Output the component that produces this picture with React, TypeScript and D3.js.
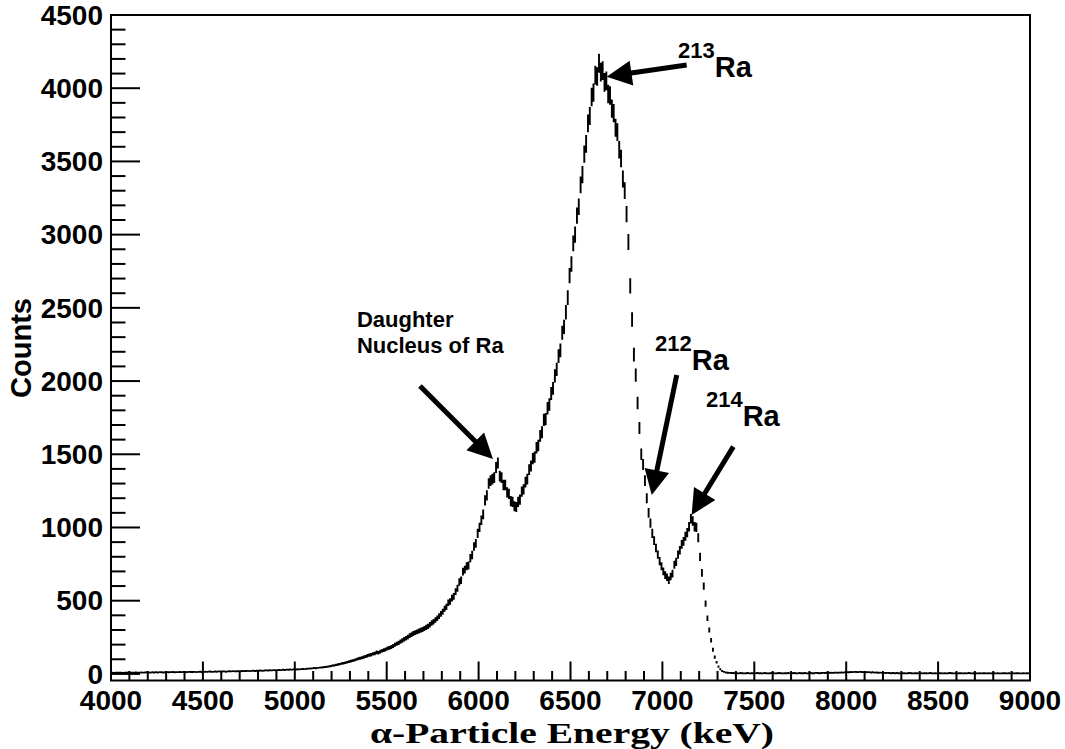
import React from 'react';
import * as d3 from 'd3';

// Alpha spectrum: counts per 10 keV bin, starting at 4000 keV.
const energyStart = 4000;
const binWidth = 10;
const counts = [
  8, 7, 9, 8, 8, 9, 7, 8, 9, 10, 8, 9, 9, 10, 8, 9, 10, 9, 10, 11,
  10, 9, 11, 10, 11, 10, 12, 11, 10, 11, 12, 11, 12, 13, 11, 12, 12, 13, 12, 13,
  13, 12, 14, 13, 13, 14, 12, 14, 15, 13, 14, 15, 14, 16, 15, 14, 16, 15, 17, 16,
  16, 17, 15, 17, 18, 17, 19, 17, 18, 19, 18, 20, 19, 20, 21, 19, 21, 22, 20, 22,
  22, 23, 21, 23, 24, 23, 25, 24, 26, 25, 26, 27, 26, 28, 27, 29, 28, 30, 29, 31,
  30, 32, 31, 33, 34, 33, 35, 36, 37, 38, 40, 39, 41, 43, 44, 46, 47, 49, 51, 53,
  57, 59, 62, 64, 67, 71, 73, 76, 80, 84, 87, 90, 94, 99, 103, 107, 110, 115, 119, 124,
  128, 131, 137, 140, 147, 145, 152, 158, 163, 168, 174, 178, 184, 190, 199, 206, 212, 220, 228, 236,
  243, 251, 262, 268, 276, 282, 287, 293, 298, 303, 310, 318, 325, 336, 348, 356, 368, 380, 395, 410,
  425, 445, 458, 486, 494, 518, 530, 562, 585, 628, 640, 698, 712, 735, 740, 790, 812, 870, 892, 960,
  1000, 1050, 1090, 1185, 1220, 1300, 1320, 1330, 1340, 1410, 1440, 1350, 1340, 1290, 1290, 1240, 1230, 1180, 1175, 1145,
  1140, 1175, 1190, 1245, 1260, 1310, 1330, 1395, 1420, 1470, 1480, 1545, 1560, 1625, 1650, 1735, 1740, 1815, 1840, 1915,
  1950, 2035, 2080, 2170, 2210, 2330, 2370, 2470, 2570, 2720, 2800, 2940, 3000, 3130, 3190, 3340, 3410, 3550, 3620, 3760,
  3810, 3940, 3970, 4090, 4080, 4170, 4110, 4120, 4040, 4050, 3960, 3950, 3860, 3830, 3730, 3700, 3580, 3520, 3380, 3300,
  3140, 2950, 2650, 2420, 2180, 2040, 1850, 1680, 1500, 1430, 1320, 1200, 1100, 1030, 960, 910, 860, 815, 770, 735,
  700, 675, 660, 640, 665, 685, 745, 765, 815, 845, 885, 905, 940, 965, 1005, 1060, 1045, 1005, 1000, 930,
  800, 690, 600, 480, 380, 300, 230, 165, 115, 80, 50, 32, 20, 14, 10, 8, 7, 6, 6, 5,
  5, 4, 6, 5, 4, 5, 6, 4, 5, 5, 4, 6, 5, 5, 4, 6, 5, 4, 5, 6,
  5, 4, 5, 6, 5, 4, 5, 5, 6, 4, 5, 6, 5, 4, 6, 5, 5, 6, 4, 5,
  6, 5, 5, 7, 6, 5, 6, 7, 6, 8, 7, 8, 7, 8, 9, 8, 9, 10, 9, 11,
  12, 11, 13, 12, 14, 13, 12, 14, 13, 12, 13, 11, 12, 10, 11, 9, 10, 8, 9, 7,
  7, 6, 7, 6, 5, 6, 5, 6, 5, 4, 5, 5, 4, 5, 6, 5, 4, 5, 5, 4,
  5, 4, 5, 5, 4, 6, 5, 4, 5, 4, 5, 5, 4, 5, 4, 5, 6, 5, 4, 5,
  4, 5, 5, 4, 5, 4, 6, 5, 4, 5, 5, 4, 5, 4, 5, 5, 4, 5, 4, 5,
  5, 4, 5, 4, 4, 5, 5, 4, 5, 4, 5, 4, 5, 5, 4, 4, 5, 4, 5, 4,
];

const xDomain = [4000, 9000];
const yDomain = [-45, 4500];
const xMajorTicks = [4000, 4500, 5000, 5500, 6000, 6500, 7000, 7500, 8000, 8500, 9000];
const yMajorTicks = [0, 500, 1000, 1500, 2000, 2500, 3000, 3500, 4000, 4500];

// Arrow annotations, tail and tip in (energy, counts)
const arrows = [
  { tail: [5681, 1966], tip: [6078, 1468] },
  { tail: [7132, 4159], tip: [6697, 4079] },
  { tail: [7078, 2042], tip: [6942, 1222] },
  { tail: [7386, 1552], tip: [7159, 1086] },
];

// Isotope labels: mass number superscript followed by element symbol
const isotopeLabels = [
  { mass: '213', symbol: 'Ra', at: [7085, 4207] },
  { mass: '212', symbol: 'Ra', at: [6960, 2205] },
  { mass: '214', symbol: 'Ra', at: [7237, 1821] },
];

const daughterLines = ['Daughter', 'Nucleus of Ra'];
const daughterAt = [5338, 2370];

const W = 1065;
const H = 749;
const frame = { left: 111, right: 1030, top: 15, bottom: 680.5 };
const sans = 'Liberation Sans, Arial, Helvetica, sans-serif';
const serif = 'Liberation Serif, Times New Roman, serif';

function Arrow({ x1, y1, x2, y2 }: { x1: number; y1: number; x2: number; y2: number }) {
  const dx = x2 - x1;
  const dy = y2 - y1;
  const len = Math.hypot(dx, dy);
  const ux = dx / len;
  const uy = dy / len;
  const headLen = 25;
  const headHalf = 12.5;
  const bx = x2 - ux * headLen;
  const by = y2 - uy * headLen;
  const px = -uy;
  const py = ux;
  const pts = [
    [x2, y2],
    [bx + px * headHalf, by + py * headHalf],
    [bx - px * headHalf, by - py * headHalf],
  ];
  return (
    <g>
      <line x1={x1} y1={y1} x2={bx + ux * 2} y2={by + uy * 2} stroke="#000" strokeWidth={5} />
      <polygon points={pts.map((p) => p.join(',')).join(' ')} fill="#000" />
    </g>
  );
}

export default function App() {
  const x = d3.scaleLinear().domain(xDomain).range([frame.left, frame.right]);
  const y = d3.scaleLinear().domain(yDomain).range([frame.bottom, frame.top]);

  const xMinor = d3.range(xDomain[0], xDomain[1] + 1, 100).filter((v) => v % 500 !== 0);
  const yMinor = d3.range(0, yDomain[1] + 1, 100).filter((v) => v % 500 !== 0);

  // Histogram with statistical error bars: bin-wide horizontal step plus sqrt(N) vertical bar.
  const barPath = d3.path();
  counts.forEach((n, i) => {
    const lo = energyStart + i * binWidth;
    const hi = lo + binWidth;
    const c = (lo + hi) / 2;
    const err = Math.sqrt(n);
    barPath.moveTo(x(lo), y(n));
    barPath.lineTo(x(hi), y(n));
    barPath.moveTo(x(c), y(n - err));
    barPath.lineTo(x(c), y(n + err));
  });

  return (
    <svg
      width={W}
      height={H}
      viewBox={`0 0 ${W} ${H}`}
      style={{ position: 'absolute', left: 0, top: 0, background: '#fff' }}
    >
      <rect x={0} y={0} width={W} height={H} fill="#fff" />
      <defs>
        <clipPath id="plot-area">
          <rect x={frame.left} y={frame.top} width={frame.right - frame.left} height={frame.bottom - frame.top} />
        </clipPath>
      </defs>

      <g clipPath="url(#plot-area)">
        <path d={barPath.toString()} stroke="#000" strokeWidth={1.9} fill="none" />
      </g>

      {/* frame */}
      <rect
        x={frame.left}
        y={frame.top}
        width={frame.right - frame.left}
        height={frame.bottom - frame.top}
        fill="none"
        stroke="#000"
        strokeWidth={2}
      />

      {/* x axis ticks */}
      {xMajorTicks.map((v) => (
        <line key={`xm${v}`} x1={x(v)} x2={x(v)} y1={frame.bottom} y2={frame.bottom - 19} stroke="#000" strokeWidth={2} />
      ))}
      {xMinor.map((v) => (
        <line key={`xn${v}`} x1={x(v)} x2={x(v)} y1={frame.bottom} y2={frame.bottom - 9.5} stroke="#000" strokeWidth={2} />
      ))}
      {xMajorTicks.map((v) => (
        <text
          key={`xl${v}`}
          x={x(v)}
          y={710}
          textAnchor="middle"
          fontFamily={sans}
          fontWeight="bold"
          fontSize={28}
          fill="#000"
        >
          {v}
        </text>
      ))}

      {/* y axis ticks */}
      {yMajorTicks.map((v) => (
        <line key={`ym${v}`} x1={frame.left} x2={frame.left + 29} y1={y(v)} y2={y(v)} stroke="#000" strokeWidth={2} />
      ))}
      {yMinor.map((v) => (
        <line key={`yn${v}`} x1={frame.left} x2={frame.left + 14.5} y1={y(v)} y2={y(v)} stroke="#000" strokeWidth={2} />
      ))}
      {yMajorTicks.map((v) => (
        <text
          key={`yl${v}`}
          x={103}
          y={y(v)}
          dy="0.35em"
          textAnchor="end"
          fontFamily={sans}
          fontWeight="bold"
          fontSize={28}
          fill="#000"
        >
          {v}
        </text>
      ))}

      {/* axis titles */}
      <text
        transform={`translate(31, 348) rotate(-90)`}
        textAnchor="middle"
        fontFamily={sans}
        fontWeight="bold"
        fontSize={29}
        fill="#000"
      >
        Counts
      </text>
      <text
        x={572}
        y={743}
        textAnchor="middle"
        fontFamily={serif}
        fontWeight="bold"
        fontSize={29}
        textLength={404}
        lengthAdjust="spacingAndGlyphs"
        fill="#000"
      >
        α-Particle Energy (keV)
      </text>

      {/* annotations */}
      {arrows.map((a, i) => (
        <Arrow key={`a${i}`} x1={x(a.tail[0])} y1={y(a.tail[1])} x2={x(a.tip[0])} y2={y(a.tip[1])} />
      ))}
      {isotopeLabels.map((l) => (
        <text key={l.mass} x={x(l.at[0])} y={y(l.at[1])} fontFamily={sans} fontWeight="bold" fill="#000">
          <tspan fontSize={22}>{l.mass}</tspan>
          <tspan fontSize={29} dy={19}>
            {l.symbol}
          </tspan>
        </text>
      ))}
      {daughterLines.map((t, i) => (
        <text
          key={t}
          x={x(daughterAt[0])}
          y={y(daughterAt[1]) + i * 26}
          fontFamily={sans}
          fontWeight="bold"
          fontSize={22}
          fill="#000"
        >
          {t}
        </text>
      ))}
    </svg>
  );
}
